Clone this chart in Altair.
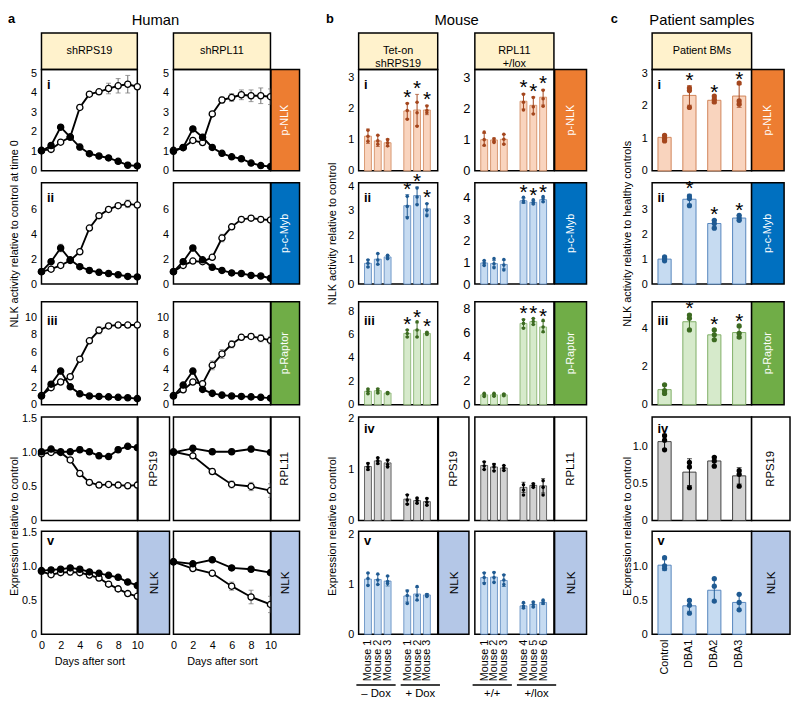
import altair as alt
import pandas as pd

FONT = "Liberation Sans"

# ---------------- layout (px) ----------------
COLW = [33.7, 97.3, 35.5, 98.5, 89, 80.3, 37, 80.3, 98.4, 101, 39]
ROWH = [20, 37, 115, 120.5, 116.5, 116, 104.5, 62]
PLOTH = [103, 103, 104.5, 105, 104.5]
W_A1, W_A2, W_B, W_C = 97.3, 98.5, 80.3, 101
BOX_A1, BOX_A2, BOX_B1, BOX_B2 = 32, 29, 31, 32.4
BOX_C = [33, 33, 33, 39, 39]
NUM_Y = [19.5, 19.5, 24, 16, 14]

# ---------------- data: Human (a) ----------------
DAYS = [0, 1, 2, 3, 4, 5, 6, 7, 8, 9, 10]
DAYS_EVEN = [0, 2, 4, 6, 8, 10]

A1_I_OPEN = [1.05, 1.10, 1.47, 1.73, 3.25, 3.93, 4.05, 4.22, 4.36, 4.44, 4.31]
A1_I_OPEN_ERR = [0, 0.05, 0.08, 0.08, 0.1, 0.1, 0.12, 0.27, 0.37, 0.45, 0.12]
A1_I_FILL = [1.02, 1.30, 2.24, 1.73, 1.22, 0.88, 0.76, 0.66, 0.49, 0.29, 0.25]
A1_I_FILL_ERR = [0, 0.05, 0.1, 0.1, 0.15, 0.08, 0.08, 0.08, 0.1, 0.15, 0.05]
A2_I_OPEN = [1.05, 1.19, 1.56, 1.45, 2.92, 3.63, 3.76, 3.90, 3.85, 3.85, 3.80]
A2_I_OPEN_ERR = [0, 0.05, 0.08, 0.1, 0.1, 0.15, 0.2, 0.25, 0.3, 0.4, 0.4]
A2_I_FILL = [1.0, 1.2, 2.15, 1.72, 1.2, 0.9, 0.72, 0.62, 0.4, 0.27, 0.22]
A2_I_FILL_ERR = [0, 0.05, 0.1, 0.15, 0.1, 0.08, 0.08, 0.08, 0.08, 0.08, 0.05]

A1_II_OPEN = [1.0, 1.2, 1.5, 1.9, 2.6, 4.5, 5.5, 6.0, 6.3, 6.45, 6.35]
A1_II_OPEN_ERR = [0, 0.05, 0.1, 0.2, 0.15, 0.1, 0.2, 0.15, 0.15, 0.3, 0.15]
A1_II_FILL = [1.0, 1.8, 2.9, 1.95, 1.4, 1.1, 0.95, 0.85, 0.75, 0.62, 0.58]
A1_II_FILL_ERR = [0, 0.1, 0.3, 0.15, 0.15, 0.2, 0.1, 0.08, 0.08, 0.1, 0.05]
A2_II_OPEN = [1.0, 1.5, 1.85, 1.8, 2.15, 3.7, 4.6, 5.2, 5.3, 5.2, 5.15]
A2_II_OPEN_ERR = [0, 0.05, 0.1, 0.1, 0.1, 0.3, 0.2, 0.2, 0.2, 0.2, 0.15]
A2_II_FILL = [1.0, 1.8, 2.9, 1.95, 1.35, 1.1, 0.9, 0.85, 0.7, 0.65, 0.47]
A2_II_FILL_ERR = [0, 0.1, 0.2, 0.15, 0.1, 0.1, 0.15, 0.05, 0.05, 0.05, 0.05]

A1_III_OPEN = [1.05, 1.95, 2.6, 3.2, 5.2, 7.3, 8.5, 9.0, 9.1, 9.1, 9.1]
A1_III_OPEN_ERR = [0, 0.1, 0.2, 0.2, 0.2, 0.2, 0.4, 0.3, 0.2, 0.2, 0.15]
A1_III_FILL = [1.0, 2.35, 3.85, 2.05, 1.25, 1.0, 0.95, 0.9, 0.85, 0.8, 0.7]
A1_III_FILL_ERR = [0, 0.1, 0.3, 0.15, 0.1, 0.1, 0.1, 0.1, 0.1, 0.2, 0.1]
A2_III_OPEN = [1.05, 1.7, 2.6, 2.4, 4.5, 5.8, 6.9, 7.7, 7.8, 7.6, 7.35]
A2_III_OPEN_ERR = [0, 0.1, 0.2, 0.2, 0.5, 0.5, 0.4, 0.3, 0.3, 0.4, 0.4]
A2_III_FILL = [1.0, 2.25, 3.85, 1.75, 1.3, 1.1, 1.0, 0.95, 0.9, 0.85, 0.75]
A2_III_FILL_ERR = [0, 0.1, 0.3, 0.1, 0.1, 0.1, 0.1, 0.1, 0.1, 0.2, 0.1]

A1_IV_OPEN = [0.98, 1.0, 1.0, 0.89, 0.69, 0.56, 0.52, 0.53, 0.52, 0.51, 0.52]
A1_IV_OPEN_ERR = [0.02, 0.03, 0.03, 0.03, 0.04, 0.04, 0.03, 0.03, 0.03, 0.03, 0.04]
A1_IV_FILL = [1.01, 1.05, 1.01, 1.01, 1.04, 1.01, 0.95, 0.94, 1.04, 1.09, 1.07]
A1_IV_FILL_ERR = [0.02, 0.03, 0.03, 0.03, 0.04, 0.03, 0.04, 0.03, 0.04, 0.03, 0.04]
A2_IV_OPEN = [1.01, 0.95, 0.72, 0.53, 0.50, 0.44]
A2_IV_OPEN_ERR = [0.02, 0.03, 0.04, 0.05, 0.06, 0.1]
A2_IV_FILL = [1.0, 1.06, 1.01, 1.01, 1.05, 1.0]
A2_IV_FILL_ERR = [0.02, 0.04, 0.04, 0.04, 0.04, 0.03]

A1_V_OPEN = [0.93, 0.88, 0.91, 0.92, 0.91, 0.875, 0.83, 0.74, 0.67, 0.6, 0.56]
A1_V_OPEN_ERR = [0.02, 0.03, 0.03, 0.05, 0.04, 0.04, 0.04, 0.03, 0.03, 0.03, 0.04]
A1_V_FILL = [0.94, 0.95, 0.96, 0.98, 0.96, 0.92, 0.9, 0.87, 0.84, 0.77, 0.72]
A1_V_FILL_ERR = [0.02, 0.03, 0.03, 0.03, 0.03, 0.03, 0.03, 0.03, 0.03, 0.03, 0.03]
A2_V_OPEN = [1.07, 0.97, 0.9, 0.71, 0.55, 0.44]
A2_V_OPEN_ERR = [0.02, 0.03, 0.03, 0.06, 0.1, 0.12]
A2_V_FILL = [1.07, 1.04, 1.1, 0.98, 0.96, 0.91]
A2_V_FILL_ERR = [0.02, 0.03, 0.03, 0.03, 0.02, 0.03]

# ---------------- data: Mouse (b) ----------------
MOUSE_POS = [0, 1, 2, 4, 5, 6]
MOUSE_XDOM = [-0.45, 6.6]
MOUSE_LABELS_B1 = ["Mouse 1", "Mouse 2", "Mouse 3", "Mouse 1", "Mouse 2", "Mouse 3"]
MOUSE_LABELS_B2 = ["Mouse 1", "Mouse 2", "Mouse 3", "Mouse 4", "Mouse 5", "Mouse 6"]
GROUPS_B1 = ["\u2013 Dox", "+ Dox"]
GROUPS_B2 = ["+/+", "+/lox"]
GROUP_X0 = [-0.65, 3.3]
GROUP_X1 = [2.85, 6.8]

B1_I = [1.11, 0.96, 0.9, 1.92, 1.95, 1.95]
B1_I_ERR = [0.23, 0.18, 0.12, 0.25, 0.5, 0.15]
B1_I_DOTS = [[1.3, 1.11, 0.95], [1.14, 0.96, 0.85], [1.0, 0.9, 0.8], [2.16, 1.93, 1.65], [2.2, 1.86, 1.43], [2.08, 1.93, 1.86]]
B2_I = [1.0, 0.99, 1.01, 2.23, 2.1, 2.36]
B2_I_ERR = [0.2, 0.06, 0.15, 0.25, 0.27, 0.25]
B2_I_DOTS = [[1.24, 1.0, 0.82], [1.03, 0.96, 0.91], [1.17, 1.01, 0.85], [2.45, 2.2, 1.95], [2.35, 2.05, 1.82], [2.58, 2.31, 2.07]]

B1_II = [0.85, 1.02, 1.11, 3.21, 3.62, 3.08]
B1_II_ERR = [0.15, 0.22, 0.06, 0.45, 0.35, 0.22]
B1_II_DOTS = [[0.99, 0.85, 0.7], [1.25, 0.99, 0.81], [1.18, 1.11, 1.04], [3.59, 3.18, 2.71], [3.93, 3.56, 3.25], [3.29, 3.02, 2.8]]
B2_II = [0.98, 0.95, 0.91, 3.86, 3.79, 3.91]
B2_II_ERR = [0.1, 0.15, 0.2, 0.12, 0.08, 0.1]
B2_II_DOTS = [[1.09, 0.98, 0.86], [1.18, 0.94, 0.76], [1.14, 0.88, 0.65], [4.02, 3.86, 3.79], [3.91, 3.79, 3.71], [4.06, 3.94, 3.82]]

B1_III = [1.15, 1.2, 1.0, 6.1, 6.4, 6.1]
B1_III_ERR = [0.2, 0.2, 0.08, 0.3, 0.6, 0.12]
B1_III_DOTS = [[1.35, 1.15, 0.95], [1.35, 1.2, 1.0], [1.05, 1.0, 0.95], [6.4, 6.1, 5.8], [7.1, 6.4, 5.8], [6.2, 6.1, 6.0]]
B2_III = [0.83, 0.83, 0.83, 6.8, 6.95, 6.5]
B2_III_ERR = [0.12, 0.12, 0.1, 0.35, 0.25, 0.45]
B2_III_DOTS = [[0.95, 0.83, 0.7], [0.95, 0.83, 0.72], [0.9, 0.83, 0.75], [7.1, 6.8, 6.4], [7.2, 6.95, 6.7], [7.05, 6.5, 6.1]]

B1_IV = [1.06, 1.17, 1.13, 0.42, 0.39, 0.37]
B1_IV_ERR = [0.07, 0.06, 0.07, 0.09, 0.05, 0.07]
B1_IV_DOTS = [[1.12, 1.05, 1.0], [1.23, 1.17, 1.12], [1.18, 1.1, 1.05], [0.5, 0.4, 0.32], [0.44, 0.39, 0.34], [0.43, 0.36, 0.3]]
B2_IV = [1.08, 1.05, 1.03, 0.65, 0.69, 0.68]
B2_IV_ERR = [0.08, 0.07, 0.05, 0.1, 0.04, 0.14]
B2_IV_DOTS = [[1.15, 1.07, 1.0], [1.1, 1.05, 0.97], [1.08, 1.03, 0.98], [0.7, 0.6, 0.5], [0.72, 0.68, 0.65], [0.78, 0.65, 0.5]]

B1_V = [1.11, 1.1, 1.07, 0.77, 0.81, 0.79]
B1_V_ERR = [0.12, 0.1, 0.1, 0.12, 0.13, 0.03]
B1_V_DOTS = [[1.23, 1.12, 0.98], [1.21, 1.09, 1.0], [1.17, 1.06, 1.02], [0.87, 0.78, 0.62], [0.96, 0.78, 0.69], [0.8, 0.78, 0.76]]
B2_V = [1.14, 1.15, 1.08, 0.57, 0.6, 0.64]
B2_V_ERR = [0.1, 0.1, 0.12, 0.05, 0.05, 0.04]
B2_V_DOTS = [[1.23, 1.14, 1.02], [1.24, 1.14, 1.04], [1.19, 1.09, 1.0], [0.64, 0.57, 0.53], [0.65, 0.6, 0.55], [0.69, 0.65, 0.62]]

# ---------------- data: Patient samples (c) ----------------
PAT_GROUPS = ["Control", "DBA1", "DBA2", "DBA3"]
C_I = [1.03, 2.32, 2.17, 2.3]
C_I_ERR = [0.07, 0.3, 0.08, 0.35]
C_I_DOTS = [[1.09, 1.0, 0.92], [2.55, 2.47, 1.95], [2.3, 2.2, 2.12], [2.7, 2.15, 2.05]]
C_II = [1.01, 3.43, 2.45, 2.67]
C_II_ERR = [0.07, 0.2, 0.15, 0.1]
C_II_DOTS = [[1.1, 1.04, 0.94], [3.56, 3.46, 3.17], [2.58, 2.45, 2.26], [2.78, 2.67, 2.58]]
C_III = [0.8, 4.38, 3.69, 3.81]
C_III_ERR = [0.25, 0.4, 0.25, 0.3]
C_III_DOTS = [[1.05, 0.75, 0.6], [4.73, 4.56, 3.95], [3.95, 3.69, 3.43], [4.16, 3.77, 3.57]]
C_IV = [1.06, 0.65, 0.8, 0.6]
C_IV_ERR = [0.1, 0.18, 0.06, 0.11]
C_IV_DOTS = [[1.14, 1.08, 0.95], [0.78, 0.72, 0.44], [0.85, 0.8, 0.73], [0.67, 0.62, 0.46]]
C_V = [1.02, 0.42, 0.65, 0.47]
C_V_ERR = [0.08, 0.08, 0.17, 0.12]
C_V_DOTS = [[1.13, 1.01, 0.97], [0.5, 0.43, 0.31], [0.82, 0.71, 0.49], [0.59, 0.47, 0.36]]

# ---------------- styles ----------------
PAL = [
    dict(box="#ed7d31", txt="white", fill="#f9d4be", stroke="#d08458", dot="#a4461d"),
    dict(box="#0070c0", txt="white", fill="#c6dbf1", stroke="#5585bd", dot="#1f5a92"),
    dict(box="#70ad47", txt="white", fill="#d6eacb", stroke="#7fae66", dot="#3c6a21"),
    dict(box="white", txt="black", fill="#d2d2d2", stroke="#404040", dot="#000000"),
    dict(box="#b4c7e7", txt="black", fill="#c6dbf1", stroke="#5585bd", dot="#1f5a92"),
]
SIDE_LABELS = ["p-NLK", "p-c-Myb", "p-Raptor", None, "NLK"]
HEADER_FILL = "#fff2cc"
GREY = "#7a7a7a"
FRAME = alt.ViewBackground(stroke="black", strokeWidth=1.5)
BLANK = pd.DataFrame({"k": [0]})
UNIT = alt.Scale(domain=[0, 1], nice=False)


def spacer(w, h):
    return alt.Chart(BLANK).mark_point(opacity=0, size=1).encode(
        x=alt.value(1), y=alt.value(1)).properties(width=w, height=h)


def text_cell(text, w, h, size, xpos, align, weight="normal"):
    return alt.Chart(pd.DataFrame({"t": [text]})).mark_text(
        font=FONT, fontSize=size, fontWeight=weight, align=align, baseline="top", color="black"
    ).encode(x=alt.value(xpos), y=alt.value(0), text="t:N").properties(width=w, height=h)


def box(text, w, h, fill, color, angle=270, size=11):
    df = pd.DataFrame({"a": [0.0], "b": [1.0], "c": [0.5], "t": [text]})
    base = alt.Chart(df)
    r = base.mark_rect(fill=fill, stroke="black", strokeWidth=1.5).encode(
        x=alt.X("a:Q", scale=UNIT, axis=None), x2="b:Q",
        y=alt.Y("a:Q", scale=UNIT, axis=None), y2="b:Q")
    t = base.mark_text(angle=angle, color=color, fontSize=size, font=FONT,
                       lineBreak="\n", lineHeight=13).encode(
        x=alt.X("c:Q", scale=UNIT, axis=None), y=alt.Y("c:Q", scale=UNIT, axis=None), text="t:N")
    return alt.layer(r, t).properties(width=w, height=h)


def numeral_layer(text, ypos):
    return alt.Chart(pd.DataFrame({"t": [text]})).mark_text(
        font=FONT, fontSize=13, fontWeight="bold", align="left", baseline="alphabetic", color="black"
    ).encode(x=alt.value(5.5), y=alt.value(ypos), text="t:N")


def yaxis(ticks, size=11, dec=False, title=None, title_x=-33, title_y=None):
    kw = dict(values=ticks, ticks=False, domain=False, grid=False, labelPadding=5,
              labelFontSize=size, labelOverlap=False, labelColor="black", labelFont=FONT)
    if dec:
        kw["labelExpr"] = "datum.value == 0 ? '0' : format(datum.value, '.1f')"
    else:
        kw["labelExpr"] = "format(datum.value, '.0f')"
    if title:
        kw.update(title=title, titleFontSize=11, titleFontWeight="normal", titleX=title_x,
                  titleBaseline="top", titleFont=FONT, titleColor="black")
        if title_y is not None:
            kw["titleY"] = title_y
    else:
        kw["title"] = None
    return alt.Axis(**kw)


DAYS_AXIS = alt.Axis(values=[0, 2, 4, 6, 8, 10], ticks=False, domain=False, grid=False,
                     labelPadding=5, labelFontSize=11, labelFlush=False, labelOverlap=False,
                     labelAngle=0, labelColor="black", labelFont=FONT,
                     labelExpr="format(datum.value, '.0f')",
                     title="Days after sort", titleFontSize=11, titleFontWeight="normal",
                     titlePadding=6, titleFont=FONT, titleColor="black")


def mouse_axis(labels):
    full = [""] * 7
    for p, lab in zip(MOUSE_POS, labels):
        full[p] = lab
    expr = "[" + ",".join("'%s'" % s for s in full) + "][round(datum.value)]"
    return alt.Axis(values=MOUSE_POS, labelExpr=expr, labelAngle=270, ticks=False, domain=False,
                    grid=False, labelPadding=5, labelFontSize=11, labelFlush=False,
                    labelOverlap=False, labelColor="black", labelFont=FONT, title=None)


PAT_AXIS = alt.Axis(labelAngle=270, ticks=False, domain=False, grid=False, labelPadding=5,
                    labelFontSize=11, labelOverlap=False, labelColor="black", labelFont=FONT,
                    title=None)


def human_panel(days, o, oe, f, fe, ydom, yax, w, h, numeral=None, num_y=19, xax=None):
    n = len(days)
    df = pd.DataFrame({"day": list(days) * 2, "v": list(o) + list(f), "e": list(oe) + list(fe),
                       "kind": ["open"] * n + ["filled"] * n})
    df["lo"] = df["v"] - df["e"]
    df["hi"] = df["v"] + df["e"]
    X = alt.X("day:Q", scale=alt.Scale(domain=[0, 10], nice=False), axis=xax)
    ys = alt.Scale(domain=ydom, nice=False)

    def Y(fld):
        return alt.Y(fld + ":Q", scale=ys, axis=yax)
    base = alt.Chart(df)
    layers = [
        base.mark_rule(color=GREY, strokeWidth=1.1).encode(x=X, y=Y("lo"), y2="hi:Q"),
        base.mark_tick(orient="horizontal", size=5, thickness=1.1, color=GREY).encode(x=X, y=Y("lo")),
        base.mark_tick(orient="horizontal", size=5, thickness=1.1, color=GREY).encode(x=X, y=Y("hi")),
        base.mark_line(color="black", strokeWidth=1.9).encode(x=X, y=Y("v"), detail="kind:N"),
        base.mark_circle(size=40, stroke="black", strokeWidth=1.3, opacity=1).encode(
            x=X, y=Y("v"),
            fill=alt.Fill("kind:N", scale=alt.Scale(domain=["open", "filled"], range=["white", "black"]),
                          legend=None)),
    ]
    if numeral:
        layers.append(numeral_layer(numeral, num_y))
    return alt.layer(*layers).properties(width=w, height=h, view=FRAME)


def bar_panel(kind, vals, errs, dots, ydom, yax, pal, w, h, numeral=None, num_y=19,
              stars=False, xax=None):
    if kind == "mouse":
        xs = list(MOUSE_POS)
        X = alt.X("x:Q", scale=alt.Scale(domain=MOUSE_XDOM, nice=False, zero=False), axis=xax)
        bar_kw = dict(size=7, strokeWidth=0.8)
        dot_size, cap = 13, 4
        star_flags = [p >= 4 for p in MOUSE_POS]
    else:
        xs = list(PAT_GROUPS)
        X = alt.X("x:N", scale=alt.Scale(domain=PAT_GROUPS, paddingInner=0.47, paddingOuter=0.235),
                  axis=xax)
        bar_kw = dict(strokeWidth=1)
        dot_size, cap = 28, 5
        star_flags = [i > 0 for i in range(len(PAT_GROUPS))]
    df = pd.DataFrame({"x": xs, "v": vals, "e": errs, "star": star_flags})
    df["lo"] = df["v"] - df["e"]
    df["hi"] = df["v"] + df["e"]
    dd = pd.DataFrame({"x": [x for x, ds in zip(xs, dots) for _ in ds],
                       "v": [d for ds in dots for d in ds]})
    ys = alt.Scale(domain=ydom, nice=False)

    def Y(fld):
        return alt.Y(fld + ":Q", scale=ys, axis=yax)
    base = alt.Chart(df)
    layers = [
        base.mark_bar(fill=pal["fill"], stroke=pal["stroke"], **bar_kw).encode(x=X, y=Y("v")),
        base.mark_rule(color=pal["dot"], strokeWidth=1).encode(x=X, y=Y("lo"), y2="hi:Q"),
        base.mark_tick(orient="horizontal", size=cap, thickness=1, color=pal["dot"]).encode(x=X, y=Y("lo")),
        base.mark_tick(orient="horizontal", size=cap, thickness=1, color=pal["dot"]).encode(x=X, y=Y("hi")),
        alt.Chart(dd).mark_circle(size=dot_size, color=pal["dot"], opacity=1).encode(x=X, y=Y("v")),
    ]
    if stars:
        layers.append(alt.Chart(df[df["star"]]).mark_text(
            text="*", font=FONT, fontSize=21, baseline="alphabetic", dy=1, color="black"
        ).encode(x=X, y=Y("hi")))
    if numeral:
        layers.append(numeral_layer(numeral, num_y))
    return alt.layer(*layers).properties(width=w, height=h, view=FRAME)


def group_cell(groups, w, h):
    df = pd.DataFrame({"x0": GROUP_X0, "x1": GROUP_X1, "t": groups})
    df["xm"] = (df["x0"] + df["x1"]) / 2
    xs = alt.Scale(domain=MOUSE_XDOM, nice=False, zero=False)
    base = alt.Chart(df)
    rule = base.mark_rule(color="black", strokeWidth=1.6).encode(
        x=alt.X("x0:Q", scale=xs, axis=None), x2="x1:Q", y=alt.value(51))
    txt = base.mark_text(font=FONT, fontSize=11.5, baseline="middle", color="black").encode(
        x=alt.X("xm:Q", scale=xs, axis=None), y=alt.value(60), text="t:N")
    return alt.layer(rule, txt).properties(width=w, height=h)


# ---------------- assemble grid ----------------
HUMAN = [
    (DAYS, A1_I_OPEN, A1_I_OPEN_ERR, A1_I_FILL, A1_I_FILL_ERR, DAYS, A2_I_OPEN, A2_I_OPEN_ERR, A2_I_FILL, A2_I_FILL_ERR, [0, 5.2], [0, 1, 2, 3, 4, 5], False),
    (DAYS, A1_II_OPEN, A1_II_OPEN_ERR, A1_II_FILL, A1_II_FILL_ERR, DAYS, A2_II_OPEN, A2_II_OPEN_ERR, A2_II_FILL, A2_II_FILL_ERR, [0, 8.15], [0, 2, 4, 6], False),
    (DAYS, A1_III_OPEN, A1_III_OPEN_ERR, A1_III_FILL, A1_III_FILL_ERR, DAYS, A2_III_OPEN, A2_III_OPEN_ERR, A2_III_FILL, A2_III_FILL_ERR, [0, 11.75], [0, 2, 4, 6, 8, 10], False),
    (DAYS, A1_IV_OPEN, A1_IV_OPEN_ERR, A1_IV_FILL, A1_IV_FILL_ERR, DAYS_EVEN, A2_IV_OPEN, A2_IV_OPEN_ERR, A2_IV_FILL, A2_IV_FILL_ERR, [0, 1.52], [0, 0.5, 1.0, 1.5], True),
    (DAYS, A1_V_OPEN, A1_V_OPEN_ERR, A1_V_FILL, A1_V_FILL_ERR, DAYS_EVEN, A2_V_OPEN, A2_V_OPEN_ERR, A2_V_FILL, A2_V_FILL_ERR, [0, 1.52], [0, 0.5, 1.0, 1.5], True),
]
MOUSE = [
    (B1_I, B1_I_ERR, B1_I_DOTS, [0, 3.25], [0, 1, 2, 3], B2_I, B2_I_ERR, B2_I_DOTS, [0, 3.25], [0, 1, 2, 3]),
    (B1_II, B1_II_ERR, B1_II_DOTS, [0, 4.15], [0, 1, 2, 3, 4], B2_II, B2_II_ERR, B2_II_DOTS, [0, 4.7], [0, 1, 2, 3, 4]),
    (B1_III, B1_III_ERR, B1_III_DOTS, [0, 8.8], [0, 2, 4, 6, 8], B2_III, B2_III_ERR, B2_III_DOTS, [0, 8.6], [0, 2, 4, 6, 8]),
    (B1_IV, B1_IV_ERR, B1_IV_DOTS, [0, 2.03], [0, 1, 2], B2_IV, B2_IV_ERR, B2_IV_DOTS, [0, 2.03], [0, 1, 2]),
    (B1_V, B1_V_ERR, B1_V_DOTS, [0, 2.07], [0, 1, 2], B2_V, B2_V_ERR, B2_V_DOTS, [0, 2.07], [0, 1, 2]),
]
PATIENT = [
    (C_I, C_I_ERR, C_I_DOTS, [0, 3.12], [0, 1, 2, 3], False),
    (C_II, C_II_ERR, C_II_DOTS, [0, 4.1], [0, 1, 2, 3], False),
    (C_III, C_III_ERR, C_III_DOTS, [0, 5.43], [0, 2, 4], False),
    (C_IV, C_IV_ERR, C_IV_DOTS, [0, 1.39], [0, 0.5, 1.0], True),
    (C_V, C_V_ERR, C_V_DOTS, [0, 1.52], [0, 0.5, 1.0], True),
]
NUMERALS = ["i", "ii", "iii", "iv", "v"]
YT_NLK = ["NLK activity relative to control at time 0", "NLK activity relative to control",
          "NLK activity relative to healthy controls"]
YT_EXPR = "Expression relative to control"
EXPR_TITLE_Y = 110.5

cells = []
# row T
cells += [text_cell("a", COLW[0], ROWH[0], 13, 0, "left", "bold"), spacer(COLW[1], ROWH[0]),
          text_cell("Human", COLW[2], ROWH[0], 15, COLW[2] / 2, "center"), spacer(COLW[3], ROWH[0]),
          text_cell("b", COLW[4], ROWH[0], 13, 56, "left", "bold"), spacer(COLW[5], ROWH[0]),
          text_cell("Mouse", COLW[6], ROWH[0], 15, COLW[6] / 2, "center"), spacer(COLW[7], ROWH[0]),
          text_cell("c", COLW[8], ROWH[0], 13, 57, "left", "bold"),
          text_cell("Patient samples", COLW[9], ROWH[0], 15, COLW[9] / 2, "center"),
          spacer(COLW[10], ROWH[0])]
# row H
hh = ROWH[1]
cells += [spacer(COLW[0], hh), box("shRPS19", W_A1, hh, HEADER_FILL, "black", angle=0),
          spacer(COLW[2], hh), box("shRPL11", W_A2, hh, HEADER_FILL, "black", angle=0),
          spacer(COLW[4], hh), box("Tet-on\nshRPS19", W_B, hh, HEADER_FILL, "black", angle=0),
          spacer(COLW[6], hh), box("RPL11\n+/lox", W_B, hh, HEADER_FILL, "black", angle=0),
          spacer(COLW[8], hh), box("Patient BMs", W_C, hh, HEADER_FILL, "black", angle=0),
          spacer(COLW[10], hh)]

for r in range(5):
    h = PLOTH[r]
    pal = PAL[r]
    num = NUMERALS[r]
    ny = NUM_Y[r]
    (d1, o1, oe1, f1, fe1, d2, o2, oe2, f2, fe2, adom, aticks, adec) = HUMAN[r]
    (b1v, b1e, b1d, b1dom, b1t, b2v, b2e, b2d, b2dom, b2t) = MOUSE[r]
    (cv, ce, cd, cdom, ct, cdec) = PATIENT[r]
    title_idx = {1: "nlk", 3: "expr"}.get(r)

    def ytitle(i):
        if title_idx == "nlk":
            return dict(title=YT_NLK[i])
        if title_idx == "expr":
            return dict(title=YT_EXPR, title_y=EXPR_TITLE_Y)
        return {}

    xa = DAYS_AXIS if r == 4 else None
    a1 = human_panel(d1, o1, oe1, f1, fe1, adom, yaxis(aticks, 11, adec, title_x=-33, **ytitle(0)),
                     W_A1, h, None if r == 3 else num, ny, xa)
    a2 = human_panel(d2, o2, oe2, f2, fe2, adom, yaxis(aticks, 11, adec) if r < 3 else None,
                     W_A2, h, None, ny, xa)
    b1 = bar_panel("mouse", b1v, b1e, b1d, b1dom, yaxis(b1t, 11, False, title_x=-32, **ytitle(1)),
                   pal, W_B, h, num, ny, stars=r < 3,
                   xax=mouse_axis(MOUSE_LABELS_B1) if r == 4 else None)
    b2 = bar_panel("mouse", b2v, b2e, b2d, b2dom, yaxis(b2t, 13, False) if r < 3 else None,
                   pal, W_B, h, None, ny, stars=r < 3,
                   xax=mouse_axis(MOUSE_LABELS_B2) if r == 4 else None)
    c1 = bar_panel("patient", cv, ce, cd, cdom, yaxis(ct, 11, cdec, title_x=-31, **ytitle(2)),
                   pal, W_C, h, num, ny, stars=r < 3, xax=PAT_AXIS if r == 4 else None)

    if r == 3:
        bA1 = box("RPS19", BOX_A1, h, "white", "black", size=11.5)
        bA2 = box("RPL11", BOX_A2, h, "white", "black", size=11.5)
        bB1 = box("RPS19", BOX_B1, h, "white", "black", size=11.5)
        bB2 = box("RPL11", BOX_B2, h, "white", "black", size=11.5)
        bC = box("RPS19", BOX_C[r], h, "white", "black", size=11.5)
    else:
        lab = SIDE_LABELS[r]
        fs = 12 if r == 4 else 11
        bA1 = box(lab, BOX_A1, h, pal["box"], pal["txt"], size=fs) if r == 4 else spacer(COLW[2], h)
        bA2 = box(lab, BOX_A2, h, pal["box"], pal["txt"], size=fs)
        bB1 = box(lab, BOX_B1, h, pal["box"], pal["txt"], size=fs) if r == 4 else spacer(COLW[6], h)
        bB2 = box(lab, BOX_B2, h, pal["box"], pal["txt"], size=fs)
        bC = box(lab, BOX_C[r], h, pal["box"], pal["txt"], size=fs)

    cells += [spacer(COLW[0], ROWH[r + 2]), a1, bA1, a2, bA2, b1, bB1, b2, bB2, c1, bC]

# row G
hg = ROWH[7]
cells += [spacer(COLW[0], hg), spacer(COLW[1], hg), spacer(COLW[2], hg), spacer(COLW[3], hg),
          spacer(COLW[4], hg), group_cell(GROUPS_B1, W_B, hg), spacer(COLW[6], hg),
          group_cell(GROUPS_B2, W_B, hg), spacer(COLW[8], hg), spacer(COLW[9], hg),
          spacer(COLW[10], hg)]

chart = alt.concat(*cells, columns=11, spacing=0, bounds="flush").properties(
    padding=0
).configure_view(strokeWidth=0).configure_axis(labelFont=FONT, titleFont=FONT)

chart.save("out.html", embed_options={"renderer": "svg", "actions": False})
